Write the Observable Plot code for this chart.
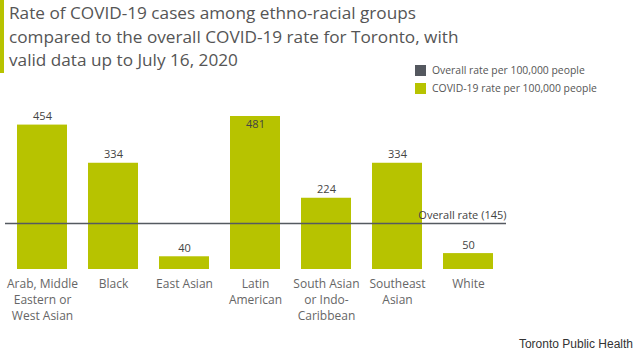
<!DOCTYPE html>
<html>
<head>
<meta charset="utf-8">
<script src="https://cdn.jsdelivr.net/npm/d3@7"></script>
<script src="https://cdn.jsdelivr.net/npm/@observablehq/plot@0.6"></script>
<style>
  html, body { margin: 0; padding: 0; background: #fff; }
  #page { position: relative; width: 638px; height: 356px; overflow: hidden; font-family: "Open Sans", sans-serif; }
  #accent { position: absolute; left: 0; top: 0; width: 4px; height: 73px; background: #b7c300; }
  #title { position: absolute; left: 9px; top: 1px; font-size: 17.2px; line-height: 23.5px; color: #555; white-space: nowrap; }
  #legend { position: absolute; left: 415px; top: 61px; font-size: 10.4px; color: #555; }
  .row { display: flex; align-items: center; height: 18px; }
  .sw { width: 11px; height: 11px; margin-right: 6px; }
  #chart { position: absolute; left: 0; top: 90px; }
  #source { position: absolute; right: 5px; top: 337px; font-family: "Liberation Sans", Arial, sans-serif; font-size: 12px; color: #333; }
</style>
</head>
<body>
<div id="page">
  <div id="accent"></div>
  <div id="title">Rate of COVID-19 cases among ethno-racial groups<br>compared to the overall COVID-19 rate for Toronto, with<br>valid data up to July 16, 2020</div>
  <div id="legend"></div>
  <div id="chart"></div>
  <div id="source">Toronto Public Health</div>
</div>
<script>
const categories = ["Arab, Middle Eastern or West Asian", "Black", "East Asian", "Latin American", "South Asian or Indo-Caribbean", "Southeast Asian", "White"];
const tickLabels = ["Arab, Middle\nEastern or\nWest Asian", "Black", "East Asian", "Latin\nAmerican", "South Asian\nor Indo-\nCaribbean", "Southeast\nAsian", "White"];
const rates = [454, 334, 40, 481, 224, 334, 50];
const overallRate = 145;
const legendLabels = ["Overall rate per 100,000 people", "COVID-19 rate per 100,000 people"];
const legendColors = ["#54585f", "#b7c300"];
const barColor = "#b7c300";
const lineColor = "#555a60";

const data = categories.map((c, i) => ({category: c, rate: rates[i]}));
const maxRate = d3.max(rates);
const labelMap = new Map(categories.map((c, i) => [c, tickLabels[i]]));

const legend = document.getElementById("legend");
legendLabels.forEach((t, i) => {
  const row = document.createElement("div");
  row.className = "row";
  row.innerHTML = `<div class="sw" style="background:${legendColors[i]}"></div><span>${t}</span>`;
  legend.appendChild(row);
});

const chart = Plot.plot({
  width: 638,
  height: 240,
  marginTop: 26,
  marginBottom: 61,
  marginLeft: 5,
  marginRight: 132,
  style: {fontFamily: "'Open Sans', sans-serif", background: "transparent"},
  x: {domain: categories, paddingInner: 0.29, paddingOuter: 0.145, axis: null},
  y: {domain: [0, maxRate], axis: null},
  marks: [
    Plot.barY(data, {x: "category", y: "rate", fill: barColor}),
    Plot.ruleY([overallRate], {stroke: lineColor, strokeWidth: 1.5}),
    Plot.text([overallRate], {y: d => d, frameAnchor: "right", textAnchor: "end", text: d => `Overall rate (${d})`, dy: -8, fontSize: 11, fill: "#444"}),
    Plot.text(data.filter(d => d.rate !== maxRate), {x: "category", y: "rate", text: d => String(d.rate), lineAnchor: "bottom", dy: -5, fontSize: 11, fill: "#444"}),
    Plot.text(data.filter(d => d.rate === maxRate), {x: "category", y: "rate", text: d => String(d.rate), lineAnchor: "top", dy: 4, fontSize: 11, fill: "#444"}),
    Plot.axisX({label: null, tickSize: 0, tickPadding: 7, fontSize: 12, lineHeight: 1.35, fill: "#666", tickFormat: d => labelMap.get(d), lineAnchor: "top"})
  ]
});
document.getElementById("chart").appendChild(chart);
</script>
</body>
</html>
